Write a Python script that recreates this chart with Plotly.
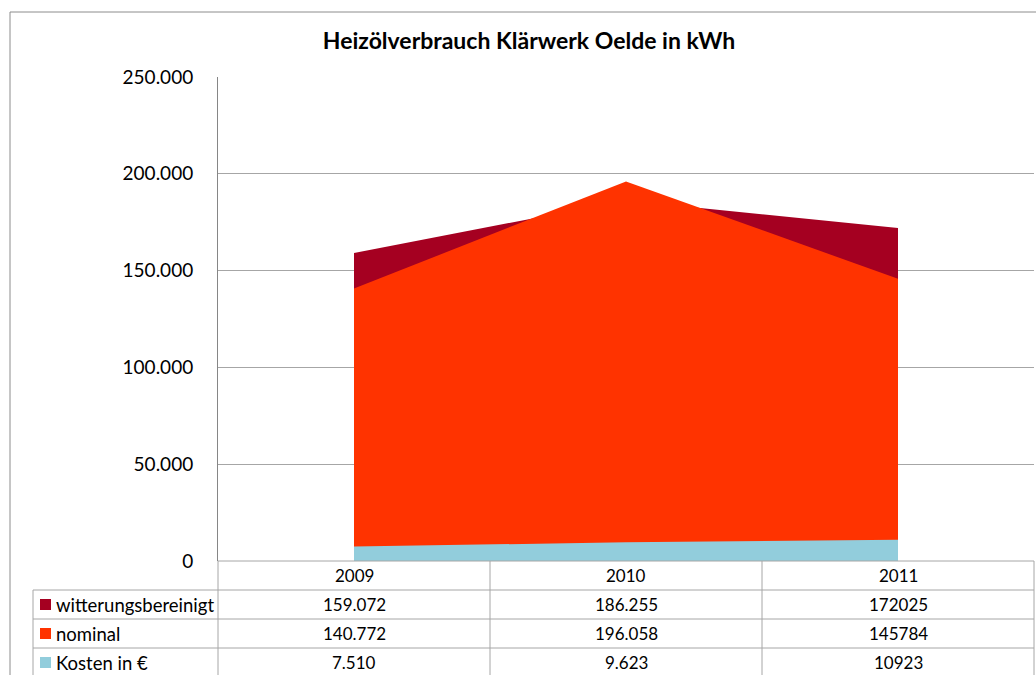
import plotly.graph_objects as go

years = ["2009", "2010", "2011"]
witterung = [159072, 186255, 172025]
nominal = [140772, 196058, 145784]
kosten = [7510, 9623, 10923]
series_names = ["witterungsbereinigt", "nominal", "Kosten in €"]
series_colors = ["#A50021", "#FF3300", "#92CDDC"]
thousand_sep = [True, True, False]  # 2011 column shown without separator
y_ticks = [0, 50000, 100000, 150000, 200000, 250000]

W, H = 1036, 675
L, R, T, B = 218, 1034, 77, 561
FONT = "Lato, Carlito, Calibri, sans-serif"
TBL = 17


def px_x(p):
    return (p - L) / (R - L)


def px_y(p):
    return (B - p) / (B - T)


def fmt(v, sep):
    return f"{v:,}".replace(",", ".") if sep else str(v)


xs = list(range(len(years)))
fig = go.Figure()
for vals, name, col in zip([witterung, nominal, kosten], series_names, series_colors):
    fig.add_trace(go.Scatter(x=xs, y=vals, name=name, mode="lines",
                             line=dict(width=0, color=col), fill="tozeroy",
                             fillcolor=col, showlegend=False, hoverinfo="skip"))

shapes = []
annos = []
gray = "#8C8C8C"
# outer chart border
shapes.append(dict(type="line", xref="paper", yref="paper", x0=px_x(10), x1=px_x(1036),
                   y0=px_y(12), y1=px_y(12), line=dict(color=gray, width=1)))
shapes.append(dict(type="line", xref="paper", yref="paper", x0=px_x(10), x1=px_x(10),
                   y0=px_y(12), y1=px_y(680), line=dict(color=gray, width=1)))

# table
row_h = 29
col_edges = [218, 490, 762, 1034]
rows_y = [561 + i * row_h for i in range(5)]
for i, yy in enumerate(rows_y):
    x0 = 218 if i == 0 else 33
    shapes.append(dict(type="line", xref="paper", yref="paper", x0=px_x(x0), x1=px_x(1034),
                       y0=px_y(yy), y1=px_y(yy), line=dict(color="#A6A6A6", width=1)))
for cx in col_edges:
    shapes.append(dict(type="line", xref="paper", yref="paper", x0=px_x(cx), x1=px_x(cx),
                       y0=px_y(561), y1=px_y(680), line=dict(color="#A6A6A6", width=1)))
shapes.append(dict(type="line", xref="paper", yref="paper", x0=px_x(33), x1=px_x(33),
                   y0=px_y(590), y1=px_y(680), line=dict(color="#A6A6A6", width=1)))

for i, yr in enumerate(years):
    annos.append(dict(x=i, xref="x", y=px_y(575.5), yref="paper", text=yr, showarrow=False,
                      font=dict(size=TBL, color="#000"), xanchor="center", yanchor="middle"))
for r, (vals, name, col) in enumerate(zip([witterung, nominal, kosten], series_names, series_colors)):
    cy = rows_y[r + 1] + row_h / 2
    shapes.append(dict(type="rect", xref="paper", yref="paper", x0=px_x(40), x1=px_x(51),
                       y0=px_y(cy - 5.5), y1=px_y(cy + 5.5), fillcolor=col, line=dict(width=0)))
    annos.append(dict(x=px_x(54), xref="paper", y=px_y(cy), yref="paper", text=name,
                      showarrow=False, font=dict(size=18.5, color="#000"),
                      xanchor="left", yanchor="middle"))
    for i, v in enumerate(vals):
        annos.append(dict(x=i, xref="x", y=px_y(cy), yref="paper", text=fmt(v, thousand_sep[i]),
                          showarrow=False, font=dict(size=TBL, color="#000"),
                          xanchor="center", yanchor="middle"))

fig.update_layout(
    width=W, height=H,
    margin=dict(l=L, r=W - R, t=T, b=H - B, pad=0),
    paper_bgcolor="white", plot_bgcolor="white",
    font=dict(family=FONT, color="#000"),
    separators=",.",
    title=dict(text="<b>Heizölverbrauch Klärwerk Oelde in kWh</b>", x=529 / W, xanchor="center",
               y=1 - 41 / H, yanchor="middle", font=dict(size=23, family=FONT, color="#000")),
    xaxis=dict(range=[-0.5, 2.5], showticklabels=False, showgrid=False, zeroline=False,
               showline=False, ticks="", fixedrange=True),
    yaxis=dict(range=[0, 250000], tickvals=y_ticks, tickformat=",d", showgrid=True,
               gridcolor="#A6A6A6", gridwidth=1, zeroline=False, showline=True,
               linecolor="#868686", linewidth=1, ticks="", ticklabelstandoff=20,
               tickfont=dict(size=19, color="#000"), layer="below traces"),
    shapes=shapes, annotations=annos,
)
fig.write_html("out.html", config={"displayModeBar": False},
               post_script="document.body.style.margin='0';document.body.style.padding='0';")
